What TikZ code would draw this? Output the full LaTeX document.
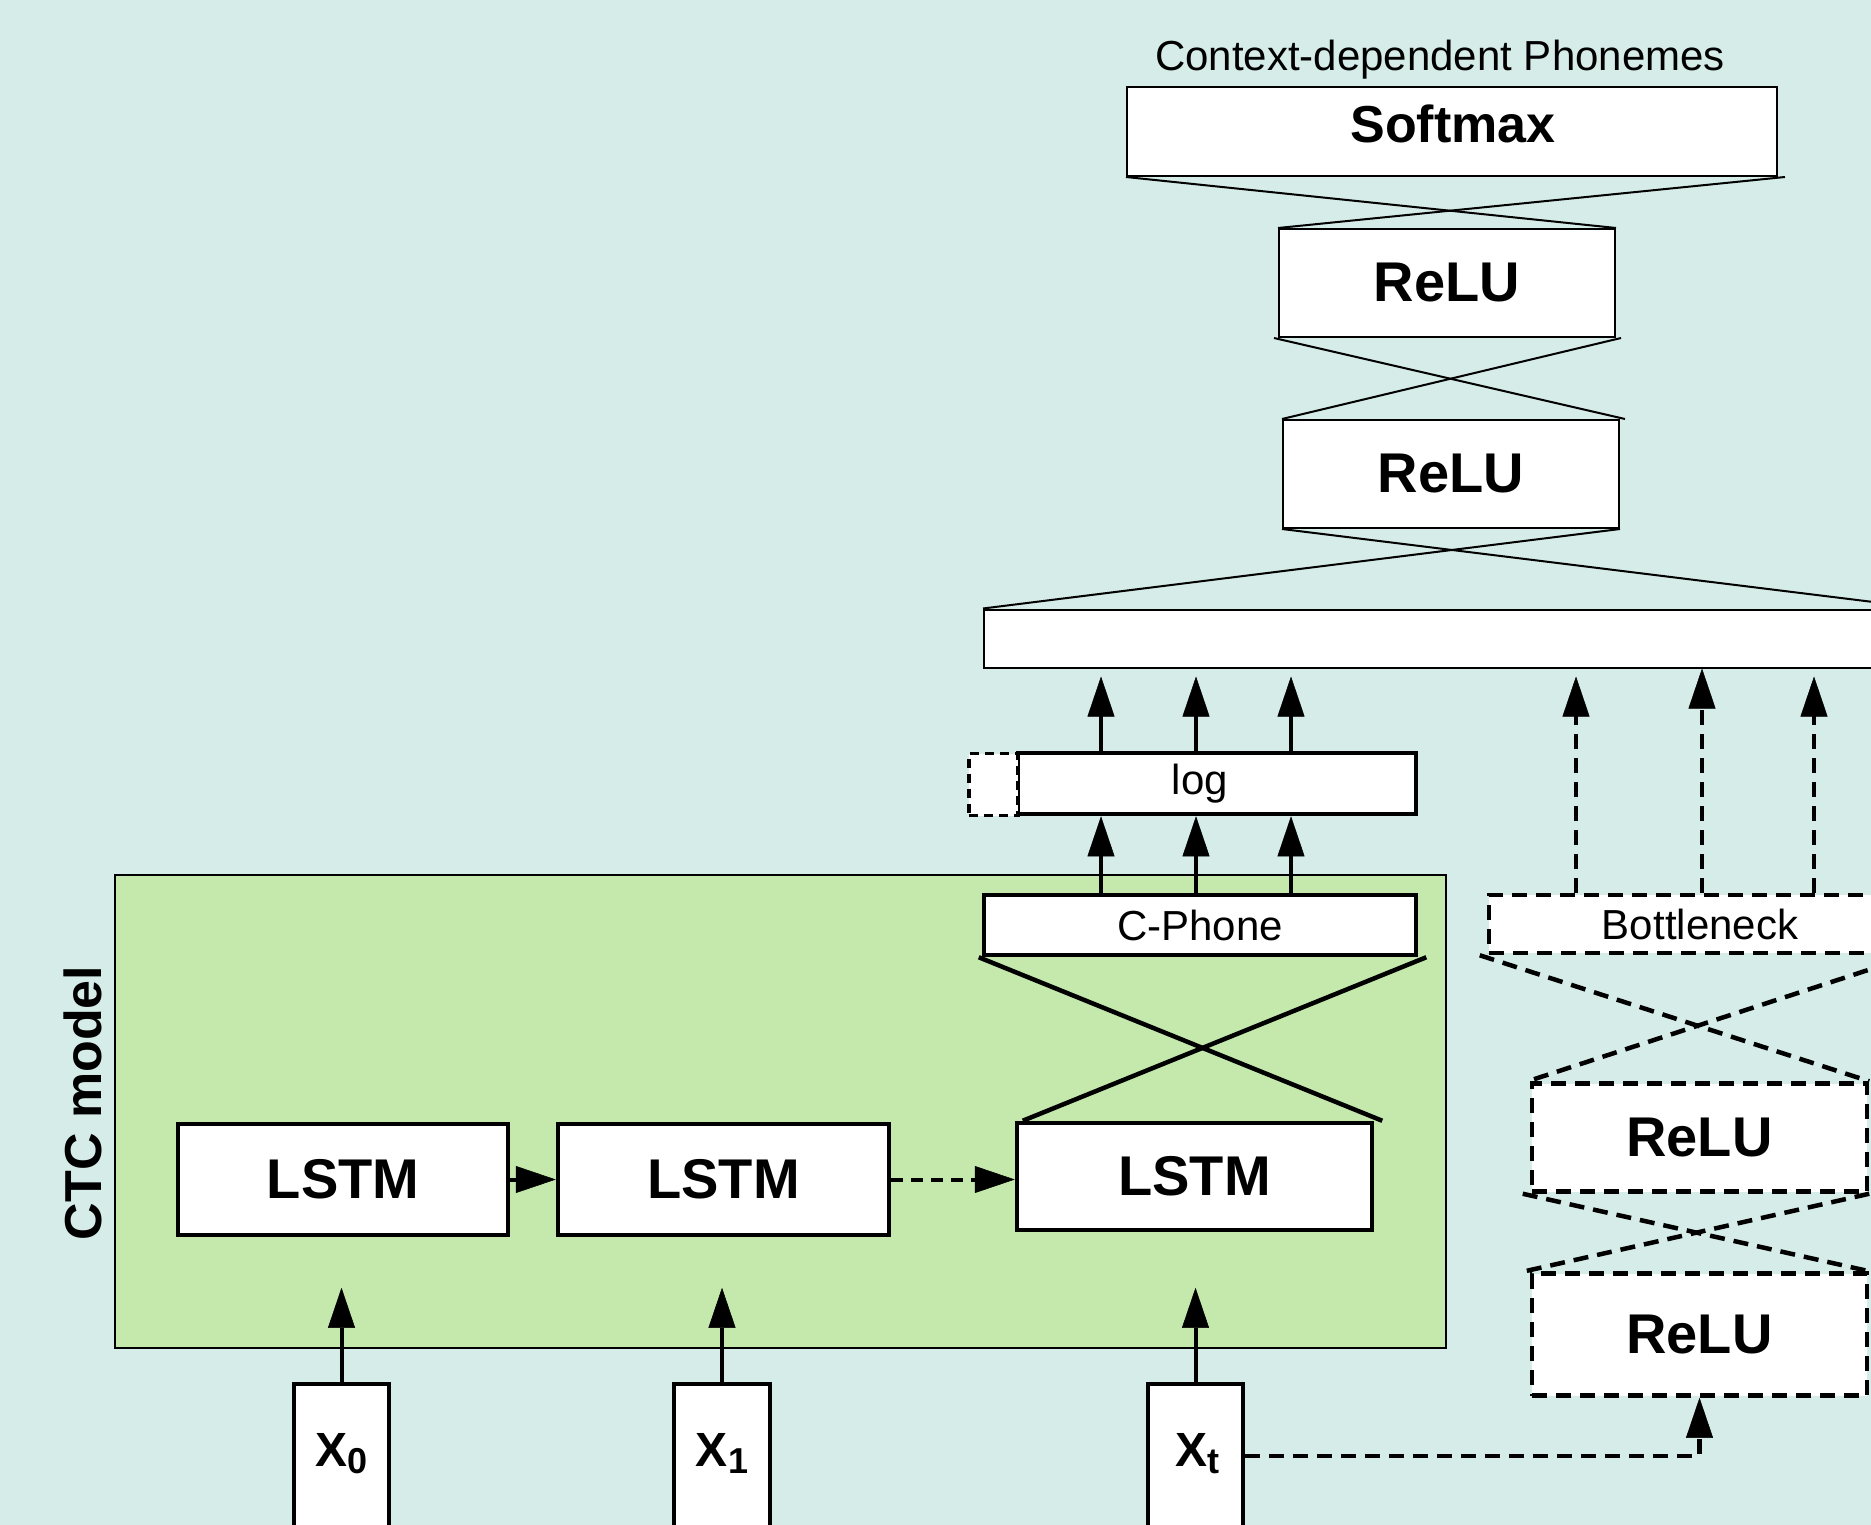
\documentclass[tikz,border=0pt]{standalone}
\usepackage{fontspec}
\setmainfont{Liberation Sans}
\usetikzlibrary{arrows.meta,calc}
\definecolor{bgcol}{HTML}{D5ECE8}
\definecolor{ctcgreen}{HTML}{C5E8AC}
\newcommand{\mysub}[1]{\raisebox{-7pt}{\fontsize{36}{36}\selectfont #1}}
\begin{document}
\begin{tikzpicture}[x=1pt,y=-1pt,
  thinbox/.style={draw=black, fill=white, line width=2pt, inner sep=0pt, rectangle},
  thickbox/.style={draw=black, fill=white, line width=4.5pt, inner sep=0pt, rectangle},
  dashbox/.style={thickbox, dash pattern=on 15pt off 9pt},
  bigtxt/.style={font=\fontsize{56}{60}\selectfont\bfseries},
  midtxt/.style={font=\fontsize{42}{48}\selectfont},
  xtxt/.style={font=\fontsize{48}{52}\selectfont\bfseries, inner sep=0pt, anchor=base},
  sz/.style 2 args={minimum width=#1pt, minimum height=#2pt},
  tip/.style={line width=4pt, -{Triangle[length=40pt,width=27pt,line width=0.5pt]}},
  dtip/.style={tip, line width=4.5pt, dash pattern=on 15pt off 9pt},
  thinline/.style={line width=2pt},
  thickline/.style={line width=4.5pt},
  dline/.style={line width=4.5pt, dash pattern=on 15pt off 9pt}]

\fill[bgcol] (0,0) rectangle (1871,1525);
\useasboundingbox (0,0) rectangle (1871,1525);
\clip (0,0) rectangle (1871,1525);

% CTC model region
\node[draw=black, fill=ctcgreen, line width=1.8pt, inner sep=0pt, sz={1331}{473}] (ctc) at (780.5,1111.5) {};
\node[font=\fontsize{52}{56}\selectfont\bfseries, rotate=90, anchor=base, inner sep=0pt] (ctclabel) at (101,1103) {CTC model};

% top stack
\node[midtxt, anchor=base, inner sep=0pt] (title) at (1440,71) {Context-dependent Phonemes};
\node[thinbox, sz={650}{89}] (softmax) at (1452,131.5) {};
\node[font=\fontsize{52}{56}\selectfont\bfseries, inner sep=0pt, anchor=base] (softmaxlabel) at (1453,143) {Softmax};
\node[thinbox, sz={336}{108}, bigtxt] (relu1) at (1447,283) {ReLU};
\node[thinbox, sz={336}{108}, bigtxt] (relu2) at (1451,474) {ReLU};
\node[thinbox, sz={941}{58}] (wide) at (1454.5,638.5) {};

\draw[thinline] (softmax.south west) -- (relu1.north east);
\draw[thinline] ([xshift=7pt]softmax.south east) -- (relu1.north west);
\draw[thinline] ([xshift=-4pt]relu1.south west) -- ([xshift=5pt]relu2.north east);
\draw[thinline] ([xshift=5pt]relu1.south east) -- (relu2.north west);
\draw[thinline] (relu2.south west) -- (wide.north east);
\draw[thinline] (relu2.south east) -- (wide.north west);

% log and C-Phone
\node[thickbox, sz={398}{61}] (log) at (1217,783.5) {};
\node[midtxt, inner sep=0pt] (loglabel) at (1200,783.5) {log};
\node[thickbox, dash pattern=on 9pt off 6pt, line width=3.5pt, sz={49}{62}] (logext) at (993.5,784.5) {};
\node[thickbox, sz={432}{60}, midtxt] (cphone) at (1200,925) {C-Phone};

\foreach \dx in {-99,-4,91}{
  \draw[tip] ([xshift=\dx pt]cphone.north) -- ([xshift=\dx pt]cphone.north |- log.south);
  \draw[tip, shorten >=8pt] ([xshift=\dx pt]cphone.north |- log.north) -- ([xshift=\dx pt]cphone.north |- wide.south);
}

% LSTMs
\node[thickbox, sz={330}{111}, bigtxt] (lstm1) at (343,1179.5) {LSTM};
\node[thickbox, sz={331}{111}, bigtxt] (lstm2) at (723.5,1179.5) {LSTM};
\node[thickbox, sz={355}{107}, bigtxt] (lstm3) at (1194.5,1176.5) {LSTM};

\draw[tip] (lstm1.east) -- (lstm2.west);
\draw[tip, dash pattern=on 12pt off 8pt] (lstm2.east) -- (lstm2.east -| lstm3.west);

\draw[thickline] ([xshift=-3pt]cphone.south west) -- ([xshift=8pt]lstm3.north east);
\draw[thickline] ([xshift=8pt]cphone.south east) -- ([xshift=8pt]lstm3.north west);

% inputs
\node[thickbox, sz={95}{180}] (x0) at (341.5,1474) {};
\node[thickbox, sz={96}{180}] (x1) at (722,1474) {};
\node[thickbox, sz={95}{180}] (xt) at (1195.5,1474) {};
\node[xtxt] (x0l) at (341.5,1466) {X\mysub{0}};
\node[xtxt] (x1l) at (722,1466) {X\mysub{1}};
\node[xtxt] (xtl) at (1197,1466) {X\mysub{t}};

\draw[tip] (x0.north) -- ++(0,-94);
\draw[tip] (x1.north) -- ++(0,-94);
\draw[tip] (xt.north) -- ++(0,-94);

% bottleneck branch
\node[dashbox, sz={422}{58}, midtxt] (bneck) at (1700,924) {Bottleneck};
\node[dashbox, sz={335}{108}, bigtxt] (relu3) at (1699.5,1137.5) {ReLU};
\node[dashbox, sz={335}{122}, bigtxt] (relu4) at (1699.5,1334.5) {ReLU};

\draw[dtip, shorten >=8pt] ([xshift=-124pt]bneck.north) -- ([xshift=-124pt]bneck.north |- wide.south);
\draw[dtip] ([xshift=2pt]bneck.north) -- ([xshift=2pt]bneck.north |- wide.south);
\draw[dtip, shorten >=8pt] ([xshift=114pt]bneck.north) -- ([xshift=114pt]bneck.north |- wide.south);

\draw[dline] ([xshift=-7pt]bneck.south west) -- (relu3.north east);
\draw[dline] (bneck.south east) -- ([xshift=-2pt]relu3.north west);
\draw[dline] ([xshift=-7pt]relu3.south west) -- (relu4.north east);
\draw[dline] (relu3.south east) -- ([xshift=-5pt]relu4.north west);

\draw[dtip] ([yshift=18pt]xt.east) -| (relu4.south);
\end{tikzpicture}
\end{document}
